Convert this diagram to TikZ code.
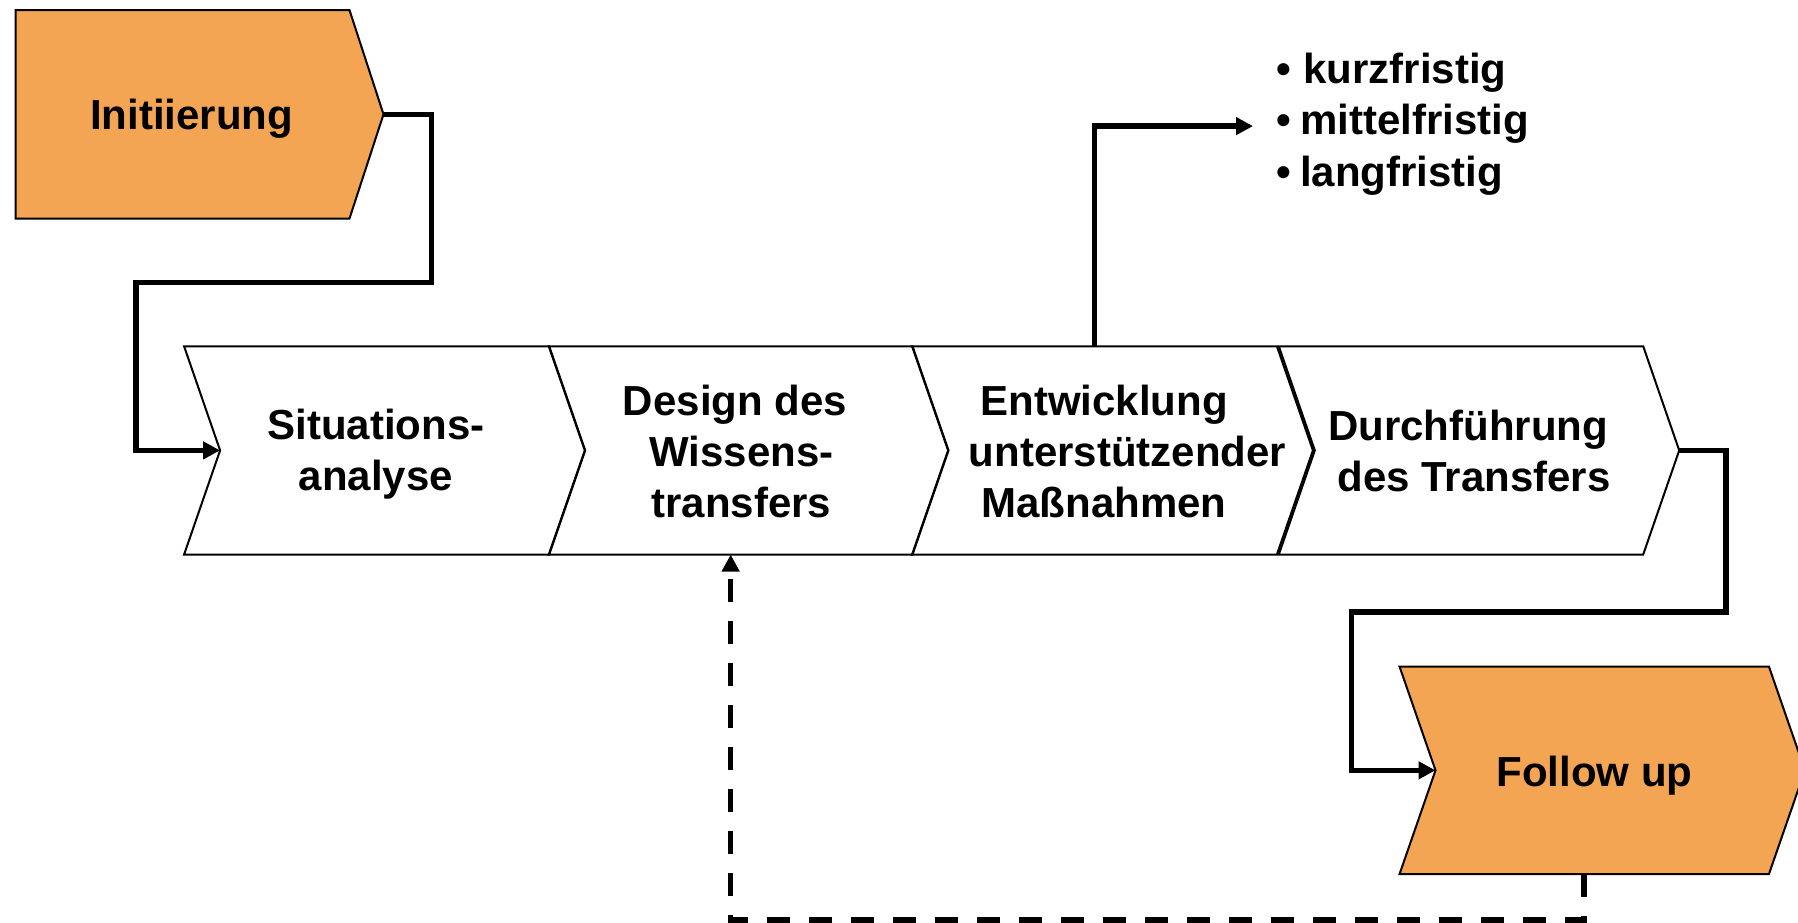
\documentclass[tikz,border=0pt]{standalone}
\usepackage{fontspec}
\setmainfont{Liberation Sans}
\usetikzlibrary{arrows.meta}
\definecolor{initorange}{RGB}{244,165,84}
\newcommand\chevronpath[1]{(#1.north west) -- (#1.north east) -- ([xshift=36pt]#1.east) -- (#1.south east) -- (#1.south west) -- ([xshift=36pt]#1.west) -- cycle}
\begin{document}
\begin{tikzpicture}[x=1pt,y=-1pt,
  stepshape/.style={rectangle, draw=none, inner sep=0pt, minimum height=207.8pt},
  shapeline/.style={draw=black, line width=2pt, line join=miter},
  steptext/.style={font=\fontsize{42}{51}\selectfont\bfseries, inner sep=0pt, align=center},
  conn/.style={line width=5.5pt, -{Triangle[length=17pt,width=17pt]}},
  fbconn/.style={conn, dash pattern=on 23pt off 19pt}]
\clip (0,0) rectangle (1798,923);
% shape nodes
\node[stepshape, minimum width=333.6pt, minimum height=208pt] (init) at (182.5,114.3) {};
\node[stepshape, minimum width=364.7pt] (sit) at (366.65,450.4) {};
\node[stepshape, minimum width=363.3pt] (des) at (730.65,450.4) {};
\node[stepshape, minimum width=364.4pt] (ent) at (1094.5,450.4) {};
\node[stepshape, minimum width=364pt] (dur) at (1461,450.4) {};
\node[stepshape, minimum width=369pt, minimum height=207.3pt] (fol) at (1584.2,770.35) {};
% outlines
\draw[shapeline, fill=initorange] (init.north west) -- (init.north east) -- ([xshift=34pt]init.east) -- (init.south east) -- (init.south west) -- cycle;
\draw[shapeline] \chevronpath{sit};
\draw[shapeline] \chevronpath{des};
\draw[shapeline] \chevronpath{ent};
\draw[shapeline] \chevronpath{dur};
\draw[shapeline, fill=initorange] \chevronpath{fol};
% texts
\node[steptext, anchor=base] (init-t) at (191.6,130) {Initiierung};
\node[steptext] (sit-t) at (376,454.6) {Situations-\\analyse};
\node[steptext] (des-t) at (741.5,451.1) {Design des\rule{13pt}{0pt}\\Wissens-\\transfers};
\node[steptext] (ent-t) at (1127.5,451.2) {Entwicklung\rule{47pt}{0pt}\\unterstützender\\Maßnahmen\rule{47pt}{0pt}};
\node[steptext] (dur-t) at (1474,450.5) {Durchführung\rule{12pt}{0pt}\\des Transfers};
\node[steptext, anchor=base] (fol-t) at (1594.5,786.7) {Follow up};
\node[steptext, align=left, anchor=west, font=\fontsize{42}{51.7}\selectfont\bfseries] (bul) at (1276,124.1) {•\kern0.9pt\ kurzfristig\\•\kern-2.5pt\ mittelfristig\\•\kern-2.5pt\ langfristig};
% connectors
\coordinate (r1) at (431.7,282.3);
\coordinate (l1) at (136,282.3);
\draw[conn] ([xshift=34pt]init.east) -| (r1) -- (l1) |- ([xshift=36pt]sit.west);
\draw[conn] (ent.north) |- ([xshift=-23pt,yshift=-2pt]bul.west);
\coordinate (r2) at (1726,612);
\coordinate (l2) at (1351.3,612);
\draw[conn] ([xshift=36pt]dur.east) -| (r2) -- (l2) |- ([xshift=36pt]fol.west);
\draw[fbconn] (fol.south) -- ++(0,46) -| (des.south);
\end{tikzpicture}
\end{document}
